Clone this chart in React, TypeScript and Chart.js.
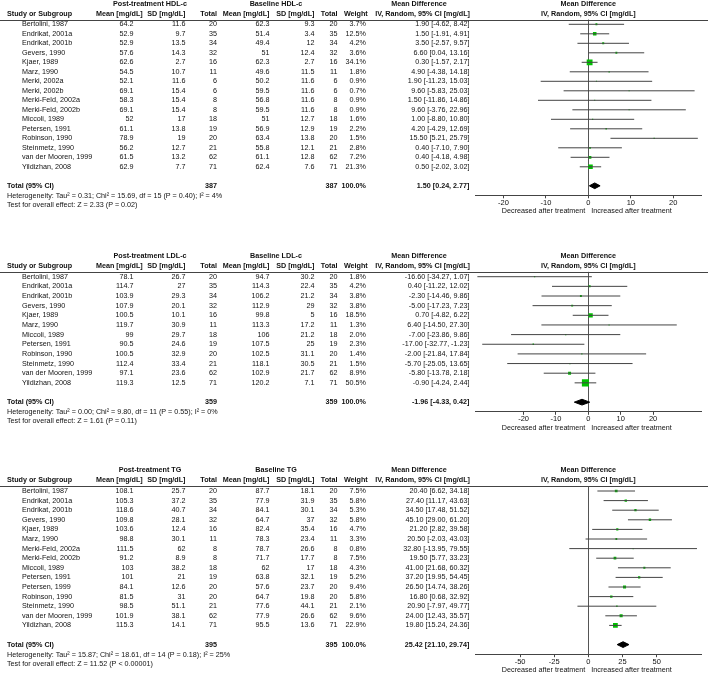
import { useEffect, useRef } from 'react';
import { Chart, registerables } from 'chart.js';

Chart.register(...registerables);

// ---------------- HDL-c ----------------
const hdlStudies = ['Bertolini, 1987', 'Endrikat, 2001a', 'Endrikat, 2001b', 'Gevers, 1990', 'Kjaer, 1989', 'Marz, 1990', 'Merki, 2002a', 'Merki, 2002b', 'Merki-Feld, 2002a', 'Merki-Feld, 2002b', 'Miccoli, 1989', 'Petersen, 1991', 'Robinson, 1990', 'Steinmetz, 1990', 'van der Mooren, 1999', 'Yildizhan, 2008'];
const hdlPostMean = [64.2, 52.9, 52.9, 57.6, 62.6, 54.5, 52.1, 69.1, 58.3, 69.1, 52, 61.1, 78.9, 56.2, 61.5, 62.9];
const hdlPostSD = [11.6, 9.7, 13.5, 14.3, 2.7, 10.7, 11.6, 15.4, 15.4, 15.4, 17, 13.8, 19, 12.7, 13.2, 7.7];
const hdlPostN = [20, 35, 34, 32, 16, 11, 6, 6, 8, 8, 18, 19, 20, 21, 62, 71];
const hdlBaseMean = [62.3, 51.4, 49.4, 51, 62.3, 49.6, 50.2, 59.5, 56.8, 59.5, 51, 56.9, 63.4, 55.8, 61.1, 62.4];
const hdlBaseSD = [9.3, 3.4, 12, 12.4, 2.7, 11.5, 11.6, 11.6, 11.6, 11.6, 12.7, 12.9, 13.8, 12.1, 12.8, 7.6];
const hdlBaseN = [20, 35, 34, 32, 16, 11, 6, 6, 8, 8, 18, 19, 20, 21, 62, 71];
const hdlWeight = [3.7, 12.5, 4.2, 3.6, 34.1, 1.8, 0.9, 0.7, 0.9, 0.9, 1.6, 2.2, 1.5, 2.8, 7.2, 21.3];
const hdlMD = [1.9, 1.5, 3.5, 6.6, 0.3, 4.9, 1.9, 9.6, 1.5, 9.6, 1.0, 4.2, 15.5, 0.4, 0.4, 0.5];
const hdlLo = [-4.62, -1.91, -2.57, 0.04, -1.57, -4.38, -11.23, -5.83, -11.86, -3.76, -8.8, -4.29, 5.21, -7.1, -4.18, -2.02];
const hdlHi = [8.42, 4.91, 9.57, 13.16, 2.17, 14.18, 15.03, 25.03, 14.86, 22.96, 10.8, 12.69, 25.79, 7.9, 4.98, 3.02];
const hdlTotals = [387, 387];
const hdlOverall = [1.5, 0.24, 2.77];
const hdlHetero = 'Heterogeneity: Tau² = 0.31; Chi² = 15.69, df = 15 (P = 0.40); I² = 4%';
const hdlEffect = 'Test for overall effect: Z = 2.33 (P = 0.02)';
const hdlTicks = [-20, -10, 0, 10, 20];
const hdlRange = [-26.7, 26.7];

// ---------------- LDL-c ----------------
const ldlStudies = ['Bertolini, 1987', 'Endrikat, 2001a', 'Endrikat, 2001b', 'Gevers, 1990', 'Kjaer, 1989', 'Marz, 1990', 'Miccoli, 1989', 'Petersen, 1991', 'Robinson, 1990', 'Steinmetz, 1990', 'van der Mooren, 1999', 'Yildizhan, 2008'];
const ldlPostMean = [78.1, 114.7, 103.9, 107.9, 100.5, 119.7, 99, 90.5, 100.5, 112.4, 97.1, 119.3];
const ldlPostSD = [26.7, 27, 29.3, 20.1, 10.1, 30.9, 29.7, 24.6, 32.9, 33.4, 23.6, 12.5];
const ldlPostN = [20, 35, 34, 32, 16, 11, 18, 19, 20, 21, 62, 71];
const ldlBaseMean = [94.7, 114.3, 106.2, 112.9, 99.8, 113.3, 106, 107.5, 102.5, 118.1, 102.9, 120.2];
const ldlBaseSD = [30.2, 22.4, 21.2, 29, 5, 17.2, 21.2, 25, 31.1, 30.5, 21.7, 7.1];
const ldlBaseN = [20, 35, 34, 32, 16, 11, 18, 19, 20, 21, 62, 71];
const ldlWeight = [1.8, 4.2, 3.8, 3.8, 18.5, 1.3, 2.0, 2.3, 1.4, 1.5, 8.9, 50.5];
const ldlMD = [-16.6, 0.4, -2.3, -5.0, 0.7, 6.4, -7.0, -17.0, -2.0, -5.7, -5.8, -0.9];
const ldlLo = [-34.27, -11.22, -14.46, -17.23, -4.82, -14.5, -23.86, -32.77, -21.84, -25.05, -13.78, -4.24];
const ldlHi = [1.07, 12.02, 9.86, 7.23, 6.22, 27.3, 9.86, -1.23, 17.84, 13.65, 2.18, 2.44];
const ldlTotals = [359, 359];
const ldlOverall = [-1.96, -4.33, 0.42];
const ldlHetero = 'Heterogeneity: Tau² = 0.00; Chi² = 9.80, df = 11 (P = 0.55); I² = 0%';
const ldlEffect = 'Test for overall effect: Z = 1.61 (P = 0.11)';
const ldlTicks = [-20, -10, 0, 10, 20];
const ldlRange = [-35, 35];

// ---------------- TG ----------------
const tgStudies = ['Bertolini, 1987', 'Endrikat, 2001a', 'Endrikat, 2001b', 'Gevers, 1990', 'Kjaer, 1989', 'Marz, 1990', 'Merki-Feld, 2002a', 'Merki-Feld, 2002b', 'Miccoli, 1989', 'Petersen, 1991', 'Petersen, 1999', 'Robinson, 1990', 'Steinmetz, 1990', 'van der Mooren, 1999', 'Yildizhan, 2008'];
const tgPostMean = [108.1, 105.3, 118.6, 109.8, 103.6, 98.8, 111.5, 91.2, 103, 101, 84.1, 81.5, 98.5, 101.9, 115.3];
const tgPostSD = [25.7, 37.2, 40.7, 28.1, 12.4, 30.1, 62, 8.9, 38.2, 21, 12.6, 31, 51.1, 38.1, 14.1];
const tgPostN = [20, 35, 34, 32, 16, 11, 8, 8, 18, 19, 20, 20, 21, 62, 71];
const tgBaseMean = [87.7, 77.9, 84.1, 64.7, 82.4, 78.3, 78.7, 71.7, 62, 63.8, 57.6, 64.7, 77.6, 77.9, 95.5];
const tgBaseSD = [18.1, 31.9, 30.1, 37, 35.4, 23.4, 26.6, 17.7, 17, 32.1, 23.7, 19.8, 44.1, 26.6, 13.6];
const tgBaseN = [20, 35, 34, 32, 16, 11, 8, 8, 18, 19, 20, 20, 21, 62, 71];
const tgWeight = [7.5, 5.8, 5.3, 5.8, 4.7, 3.3, 0.8, 7.5, 4.3, 5.2, 9.4, 5.8, 2.1, 9.6, 22.9];
const tgMD = [20.4, 27.4, 34.5, 45.1, 21.2, 20.5, 32.8, 19.5, 41.0, 37.2, 26.5, 16.8, 20.9, 24.0, 19.8];
const tgLo = [6.62, 11.17, 17.48, 29.0, 2.82, -2.03, -13.95, 5.77, 21.68, 19.95, 14.74, 0.68, -7.97, 12.43, 15.24];
const tgHi = [34.18, 43.63, 51.52, 61.2, 39.58, 43.03, 79.55, 33.23, 60.32, 54.45, 38.26, 32.92, 49.77, 35.57, 24.36];
const tgTotals = [395, 395];
const tgOverall = [25.42, 21.1, 29.74];
const tgHetero = 'Heterogeneity: Tau² = 15.87; Chi² = 18.61, df = 14 (P = 0.18); I² = 25%';
const tgEffect = 'Test for overall effect: Z = 11.52 (P < 0.00001)';
const tgTicks = [-50, -25, 0, 25, 50];
const tgRange = [-83, 83];

type Panel = {
  post: string; base: string;
  studies: string[]; postMean: number[]; postSD: number[]; postN: number[];
  baseMean: number[]; baseSD: number[]; baseN: number[]; weight: number[];
  md: number[]; lo: number[]; hi: number[]; totals: number[]; overall: number[];
  hetero: string; effect: string; ticks: number[]; range: number[];
};

const panels: { p: Panel; top: number; height: number; row0: number; rowH: number }[] = [
  {
    p: { post: 'Post-treatment HDL-c', base: 'Baseline HDL-c', studies: hdlStudies, postMean: hdlPostMean, postSD: hdlPostSD, postN: hdlPostN, baseMean: hdlBaseMean, baseSD: hdlBaseSD, baseN: hdlBaseN, weight: hdlWeight, md: hdlMD, lo: hdlLo, hi: hdlHi, totals: hdlTotals, overall: hdlOverall, hetero: hdlHetero, effect: hdlEffect, ticks: hdlTicks, range: hdlRange },
    top: 0, height: 236, row0: 24.3, rowH: 9.5,
  },
  {
    p: { post: 'Post-treatment LDL-c', base: 'Baseline LDL-c', studies: ldlStudies, postMean: ldlPostMean, postSD: ldlPostSD, postN: ldlPostN, baseMean: ldlBaseMean, baseSD: ldlBaseSD, baseN: ldlBaseN, weight: ldlWeight, md: ldlMD, lo: ldlLo, hi: ldlHi, totals: ldlTotals, overall: ldlOverall, hetero: ldlHetero, effect: ldlEffect, ticks: ldlTicks, range: ldlRange },
    top: 236, height: 224, row0: 40.7, rowH: 9.65,
  },
  {
    p: { post: 'Post-treatment TG', base: 'Baseline TG', studies: tgStudies, postMean: tgPostMean, postSD: tgPostSD, postN: tgPostN, baseMean: tgBaseMean, baseSD: tgBaseSD, baseN: tgBaseN, weight: tgWeight, md: tgMD, lo: tgLo, hi: tgHi, totals: tgTotals, overall: tgOverall, hetero: tgHetero, effect: tgEffect, ticks: tgTicks, range: tgRange },
    top: 460, height: 216, row0: 31, rowH: 9.6,
  },
];

const FONT = '"Liberation Sans", Arial, Helvetica, sans-serif';
const FS = 7.2;
const TEXT = '#111';
const LINE = '#444';
const GREEN = '#00c000';
const AXIS_H = 20;
const W = 708;

// column anchors (px)
const X = {
  name: 7, study: 22, meanA: 133.5, meanAh: 142.7, sdA: 185.5, nA: 217, meanB: 269.5, sdB: 314.5, nB: 337.5,
  weight: 366, weightH: 367.7, md: 469.5, mdH: 470, postC: 150, baseC: 276, mdC: 419,
};

function fmt2(v: number) { return v.toFixed(2); }
function ciText(m: number, l: number, h: number) { return `${fmt2(m)} [${fmt2(l)}, ${fmt2(h)}]`; }

function makeTablePlugin(p: Panel) {
  return {
    id: 'forestTable',
    afterDraw(chart: any) {
      const ctx: CanvasRenderingContext2D = chart.ctx;
      const ys = chart.scales.y;
      const xs = chart.scales.x;
      const ca = chart.chartArea;
      const n = p.studies.length;
      const t = (s: string, x: number, y: number, align: CanvasTextAlign, bold = false) => {
        ctx.font = `${bold ? 'bold ' : ''}${FS}px ${FONT}`;
        ctx.textAlign = align;
        ctx.textBaseline = 'middle';
        ctx.fillStyle = TEXT;
        ctx.fillText(s, x, y);
      };
      ctx.save();
      const r0 = ys.getPixelForValue(0);
      const h1 = r0 - 20.5;
      const h2 = r0 - 10.5;
      const midPlot = (ca.left + ca.right) / 2;
      // headers
      t(p.post, X.postC, h1, 'center', true);
      t(p.base, X.baseC, h1, 'center', true);
      t('Mean Difference', X.mdC, h1, 'center', true);
      t('Mean Difference', midPlot, h1, 'center', true);
      t('Study or Subgroup', X.name, h2, 'left', true);
      t('Mean [mg/dL]', X.meanAh, h2, 'right', true);
      t('SD [mg/dL]', X.sdA, h2, 'right', true);
      t('Total', X.nA, h2, 'right', true);
      t('Mean [mg/dL]', X.meanB, h2, 'right', true);
      t('SD [mg/dL]', X.sdB, h2, 'right', true);
      t('Total', X.nB, h2, 'right', true);
      t('Weight', X.weightH, h2, 'right', true);
      t('IV, Random, 95% CI [mg/dL]', X.mdH, h2, 'right', true);
      t('IV, Random, 95% CI [mg/dL]', midPlot, h2, 'center', true);
      // separator
      ctx.strokeStyle = LINE;
      ctx.lineWidth = 1;
      ctx.beginPath();
      const ly = Math.round(ca.top) + 0.5;
      ctx.moveTo(0, ly);
      ctx.lineTo(W, ly);
      ctx.stroke();
      // rows
      for (let i = 0; i < n; i++) {
        const y = ys.getPixelForValue(i);
        t(p.studies[i], X.study, y, 'left');
        t(String(p.postMean[i]), X.meanA, y, 'right');
        t(String(p.postSD[i]), X.sdA, y, 'right');
        t(String(p.postN[i]), X.nA, y, 'right');
        t(String(p.baseMean[i]), X.meanB, y, 'right');
        t(String(p.baseSD[i]), X.sdB, y, 'right');
        t(String(p.baseN[i]), X.nB, y, 'right');
        t(p.weight[i].toFixed(1) + '%', X.weight, y, 'right');
        t(ciText(p.md[i], p.lo[i], p.hi[i]), X.md, y, 'right');
      }
      const ty = ys.getPixelForValue(n + 1);
      t('Total (95% CI)', X.name, ty, 'left', true);
      t(String(p.totals[0]), X.nA, ty, 'right', true);
      t(String(p.totals[1]), X.nB, ty, 'right', true);
      t('100.0%', X.weight, ty, 'right', true);
      t(ciText(p.overall[0], p.overall[1], p.overall[2]), X.md, ty, 'right', true);
      t(p.hetero, X.name, ty + 10, 'left');
      t(p.effect, X.name, ty + 19, 'left');
      // direction labels
      const zx = xs.getPixelForValue(0);
      const dy = ca.bottom + 16;
      t('Decreased after treatment', zx - 3, dy, 'right');
      t('Increased after treatment', zx + 3, dy, 'left');
      ctx.restore();
    },
  };
}

function buildConfig(p: Panel, H: number, row0: number, rowH: number): any {
  const n = p.studies.length;
  const padTop = row0 - 0.5 * rowH;
  const bottom = padTop + (n + 2.5) * rowH;
  const padBottom = H - bottom - AXIS_H;
  const ci: { x: number; y: number }[] = [];
  for (let i = 0; i < n; i++) {
    ci.push({ x: p.lo[i], y: i }, { x: p.hi[i], y: i }, { x: NaN, y: NaN });
  }
  const squares = p.md.map((m, i) => ({ x: m, y: i }));
  const radii = p.weight.map((w) => Math.max(0.75, Math.sqrt(w) / Math.SQRT2));
  const tr = n + 1;
  const dh = 0.3;
  const [om, ol, oh] = p.overall;
  const diamond = [
    { x: ol, y: tr }, { x: om, y: tr - dh }, { x: oh, y: tr }, { x: om, y: tr + dh }, { x: ol, y: tr },
  ];
  return {
    type: 'scatter',
    data: {
      datasets: [
        { data: ci, showLine: true, spanGaps: false, borderColor: LINE, borderWidth: 1, pointRadius: 0, fill: false },
        { data: squares, pointStyle: 'rect', pointRadius: radii, backgroundColor: GREEN, borderWidth: 0, pointBorderWidth: 0, showLine: false },
        { data: diamond, showLine: true, fill: 'shape', backgroundColor: '#000', borderColor: '#000', borderWidth: 1, pointRadius: 0 },
      ],
    },
    options: {
      animation: false,
      responsive: false,
      maintainAspectRatio: false,
      devicePixelRatio: 1,
      events: [],
      layout: { padding: { left: 475, right: W - 701.7, top: padTop, bottom: padBottom } },
      plugins: { legend: { display: false }, tooltip: { enabled: false } },
      scales: {
        x: {
          type: 'linear',
          min: p.range[0],
          max: p.range[1],
          afterBuildTicks: (s: any) => { s.ticks = p.ticks.map((v) => ({ value: v })); },
          afterFit: (s: any) => { s.height = AXIS_H; },
          grid: {
            color: (c: any) => (c.tick && c.tick.value === 0 ? '#555' : 'rgba(0,0,0,0)'),
            tickColor: LINE,
            tickLength: 3,
            drawOnChartArea: true,
          },
          border: { display: true, color: LINE, width: 1 },
          ticks: { autoSkip: false, maxRotation: 0, padding: 0, color: TEXT, font: { family: FONT, size: FS + 0.3 }, callback: (v: any) => String(v) },
        },
        y: { type: 'linear', reverse: true, min: -0.5, max: n + 2, display: false },
      },
    },
    plugins: [makeTablePlugin(p)],
  };
}

function ForestPanel({ p, top, height, row0, rowH }: { p: Panel; top: number; height: number; row0: number; rowH: number }) {
  const ref = useRef<HTMLCanvasElement>(null);
  useEffect(() => {
    const chart = new Chart(ref.current as HTMLCanvasElement, buildConfig(p, height, row0, rowH));
    return () => chart.destroy();
  }, [p, height, row0, rowH]);
  return (
    <canvas
      ref={ref}
      width={W}
      height={height}
      style={{ position: 'absolute', left: 0, top, width: W, height, display: 'block' }}
    />
  );
}

export default function App() {
  useEffect(() => {
    document.body.style.margin = '0';
    document.body.style.background = '#fff';
  }, []);
  return (
    <div style={{ position: 'relative', width: W, height: 676, background: '#fff', overflow: 'hidden' }}>
      {panels.map((pn, i) => (
        <ForestPanel key={i} p={pn.p} top={pn.top} height={pn.height} row0={pn.row0} rowH={pn.rowH} />
      ))}
    </div>
  );
}
